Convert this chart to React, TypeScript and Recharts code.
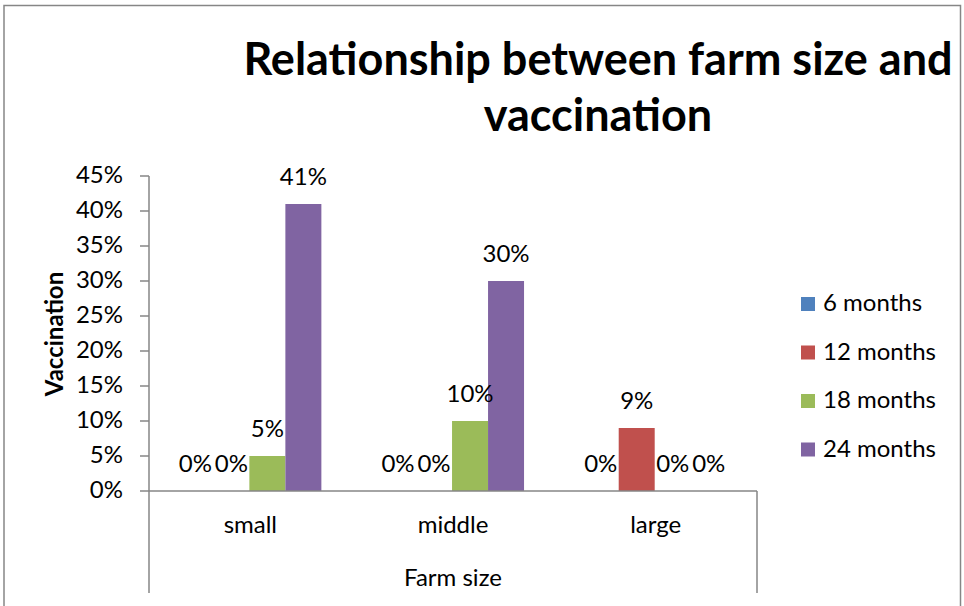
import React from 'react';
import { BarChart, Bar, XAxis, YAxis, LabelList } from 'recharts';

// Share of farms vaccinating, by farm size and vaccination interval (percent)
const farmSizes = ['small', 'middle', 'large'];
const sixMonths = [0, 0, 0];
const twelveMonths = [0, 0, 9];
const eighteenMonths = [5, 10, 0];
const twentyFourMonths = [41, 30, 0];
const yTicks = [0, 5, 10, 15, 20, 25, 30, 35, 40, 45];

const SERIES = [
  { key: 'm6', name: '6 months', color: '#4F81BD', values: sixMonths },
  { key: 'm12', name: '12 months', color: '#C0504D', values: twelveMonths },
  { key: 'm18', name: '18 months', color: '#9BBB59', values: eighteenMonths },
  { key: 'm24', name: '24 months', color: '#8064A2', values: twentyFourMonths },
];

const rows = farmSizes.map((size, i) => {
  const row: Record<string, string | number> = { size };
  SERIES.forEach((s) => {
    row[s.key] = s.values[i];
  });
  return row;
});

const FONT = 'Lato, "Open Sans", sans-serif';
const AXIS_GREY = '#868686';
const W = 964;
const H = 606;

// plot box edges (pixels)
const PLOT_LEFT = 149;
const PLOT_RIGHT = 757;
const PLOT_TOP = 176;
const PLOT_BOTTOM = 491;

const pct = (v: number) => `${v}%`;

function Decorations() {
  return (
    <svg
      width={W}
      height={H}
      style={{ position: 'absolute', left: 0, top: 0, pointerEvents: 'none', fontFamily: FONT }}
    >
      {/* outer chart frame, open at the bottom */}
      <rect x={4} y={5.5} width={956.5} height={700} fill="none" stroke={AXIS_GREY} strokeWidth={1.5} />

      {/* category axis side lines */}
      <line x1={PLOT_LEFT} y1={PLOT_BOTTOM} x2={PLOT_LEFT} y2={593} stroke={AXIS_GREY} strokeWidth={1.5} />
      <line x1={PLOT_RIGHT} y1={PLOT_BOTTOM} x2={PLOT_RIGHT} y2={593} stroke={AXIS_GREY} strokeWidth={1.5} />

      <text x={598} y={75} textAnchor="middle" fontSize={45} fontWeight={700} fill="#000">
        Relationship between farm size and
      </text>
      <text x={598} y={131} textAnchor="middle" fontSize={45} fontWeight={700} fill="#000">
        vaccination
      </text>

      <text
        x={63}
        y={334}
        transform="rotate(-90 63 334)"
        textAnchor="middle"
        fontSize={24}
        fontWeight={700}
        fill="#000"
      >
        Vaccination
      </text>

      <text x={(PLOT_LEFT + PLOT_RIGHT) / 2} y={586} textAnchor="middle" fontSize={24} fill="#000">
        Farm size
      </text>

      {SERIES.map((s, i) => {
        const baseline = 311 + i * 48.5;
        return (
          <g key={s.key}>
            <rect x={801} y={baseline - 14} width={14} height={14} fill={s.color} />
            <text x={823} y={baseline} fontSize={24} fill="#000">
              {s.name}
            </text>
          </g>
        );
      })}
    </svg>
  );
}

export default function App() {
  return (
    <div style={{ position: 'absolute', left: 0, top: 0, width: W, height: H, background: '#fff' }}>
      <BarChart
        width={W}
        height={H}
        data={rows}
        margin={{ top: PLOT_TOP, right: W - PLOT_RIGHT, bottom: H - PLOT_BOTTOM - 40, left: 0 }}
        barCategoryGap="14%"
        barGap={0}
        style={{ fontFamily: FONT }}
      >
        <XAxis
          dataKey="size"
          height={40}
          axisLine={{ stroke: AXIS_GREY, strokeWidth: 1.5 }}
          tickLine={false}
          tickSize={0}
          tickMargin={25}
          tick={{ fill: '#000', fontSize: 24 }}
        />
        <YAxis
          width={PLOT_LEFT}
          domain={[0, 45]}
          ticks={yTicks}
          tickFormatter={pct}
          axisLine={{ stroke: AXIS_GREY, strokeWidth: 1.5 }}
          tickLine={{ stroke: AXIS_GREY, strokeWidth: 1.5 }}
          tickSize={9}
          tickMargin={17}
          tick={{ fill: '#000', fontSize: 24, dy: -2 }}
          interval={0}
        />
        {SERIES.map((s) => (
          <Bar
            key={s.key}
            dataKey={s.key}
            name={s.name}
            fill={s.color}
            minPointSize={0.01}
            isAnimationActive={false}
          >
            <LabelList
              dataKey={s.key}
              position="top"
              offset={19}
              formatter={(v: number) => pct(v)}
              style={{ fill: '#000', fontSize: 24 }}
            />
          </Bar>
        ))}
      </BarChart>
      <Decorations />
    </div>
  );
}
